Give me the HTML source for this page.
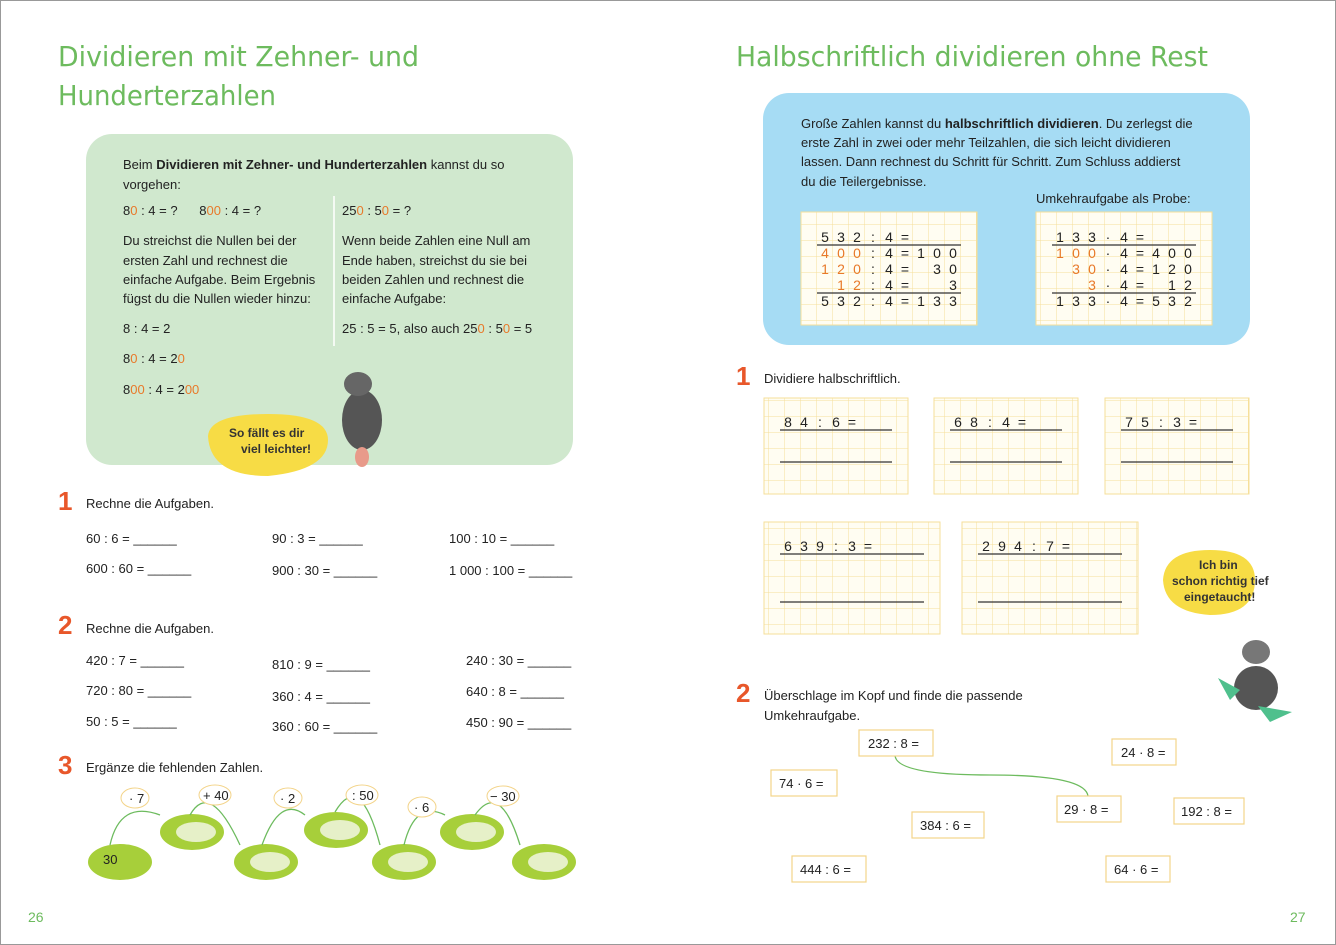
<!DOCTYPE html>
<html><head><meta charset="utf-8"><style>
html,body{margin:0;padding:0;background:#fff}
svg{display:block}
text{font-family:"Liberation Sans",sans-serif;font-size:13px;fill:#222}
.h{font-family:"DejaVu Sans",sans-serif;font-size:28px;fill:#6dbb5e}
.n{font-family:"Liberation Sans",sans-serif;font-size:26px;font-weight:bold;fill:#e8572a}
.o{fill:#e8792a}
.g{font-size:14px;text-anchor:middle}
.s{font-family:"Liberation Sans",sans-serif;font-size:12px;font-weight:bold;fill:#333}
.pg{fill:#6dbb5e;font-size:14px}
.bx{fill:#fff;stroke:#f3d48a;stroke-width:1.2}
</style></head><body>
<svg width="1336" height="945" viewBox="0 0 1336 945">
<defs>
<pattern id="gr" x="0" y="0" width="16" height="16" patternUnits="userSpaceOnUse">
<rect width="16" height="16" fill="#fffdf2"/><path d="M0 0H16M0 0V16" stroke="#f6df9a" stroke-width="1"/></pattern>
</defs>
<rect x="0.5" y="0.5" width="1335" height="944" fill="#fff" stroke="#999"/>

<!-- LEFT PAGE -->
<text class="h" x="58" y="66" textLength="361" lengthAdjust="spacingAndGlyphs">Dividieren mit Zehner- und</text>
<text class="h" x="58" y="105" textLength="218" lengthAdjust="spacingAndGlyphs">Hunderterzahlen</text>
<rect x="86" y="134" width="487" height="331" rx="26" fill="#d0e8ce"/>
<text x="123" y="169">Beim <tspan font-weight="bold">Dividieren mit Zehner- und Hunderterzahlen</tspan> kannst du so</text>
<text x="123" y="189">vorgehen:</text>
<text x="123" y="215">8<tspan class="o">0</tspan> : 4 = ?&#160;&#160;&#160;&#160;&#160; 8<tspan class="o">00</tspan> : 4 = ?</text>
<line x1="334" y1="196" x2="334" y2="346" stroke="#fff" stroke-width="1.5"/>
<text x="342" y="215">25<tspan class="o">0</tspan> : 5<tspan class="o">0</tspan> = ?</text>
<text x="123" y="245">Du streichst die Nullen bei der</text>
<text x="123" y="265">ersten Zahl und rechnest die</text>
<text x="123" y="284">einfache Aufgabe. Beim Ergebnis</text>
<text x="123" y="303">fügst du die Nullen wieder hinzu:</text>
<text x="342" y="245">Wenn beide Zahlen eine Null am</text>
<text x="342" y="265">Ende haben, streichst du sie bei</text>
<text x="342" y="284">beiden Zahlen und rechnest die</text>
<text x="342" y="303">einfache Aufgabe:</text>
<text x="123" y="333">8 : 4 = 2</text>
<text x="342" y="333">25 : 5 = 5, also auch 25<tspan class="o">0</tspan> : 5<tspan class="o">0</tspan> = 5</text>
<text x="123" y="363">8<tspan class="o">0</tspan> : 4 = 2<tspan class="o">0</tspan></text>
<text x="123" y="394">8<tspan class="o">00</tspan> : 4 = 2<tspan class="o">00</tspan></text>
<!-- bug -->
<ellipse cx="362" cy="420" rx="20" ry="30" fill="#555"/>
<ellipse cx="358" cy="384" rx="14" ry="12" fill="#666"/>
<ellipse cx="362" cy="457" rx="7" ry="10" fill="#e89a8a"/>
<path d="M208 436 Q210 414 268 414 Q328 414 328 440 Q328 470 268 476 Q210 476 208 436Z" fill="#f7dc45"/>
<text class="s" x="229" y="437">So fällt es dir</text>
<text class="s" x="241" y="453">viel leichter!</text>

<text class="n" x="58" y="510">1</text>
<text x="86" y="508">Rechne die Aufgaben.</text>
<text x="86" y="543">60 : 6 = ______</text>
<text x="272" y="543">90 : 3 = ______</text>
<text x="449" y="543">100 : 10 = ______</text>
<text x="86" y="573">600 : 60 = ______</text>
<text x="272" y="575">900 : 30 = ______</text>
<text x="449" y="575">1 000 : 100 = ______</text>

<text class="n" x="58" y="634">2</text>
<text x="86" y="633">Rechne die Aufgaben.</text>
<text x="86" y="665">420 : 7 = ______</text>
<text x="272" y="669">810 : 9 = ______</text>
<text x="466" y="665">240 : 30 = ______</text>
<text x="86" y="695">720 : 80 = ______</text>
<text x="272" y="701">360 : 4 = ______</text>
<text x="466" y="696">640 : 8 = ______</text>
<text x="86" y="726">50 : 5 = ______</text>
<text x="272" y="731">360 : 60 = ______</text>
<text x="466" y="727">450 : 90 = ______</text>

<text class="n" x="58" y="774">3</text>
<text x="86" y="772">Ergänze die fehlenden Zahlen.</text>
<g fill="#a7cf3a">
<ellipse cx="120" cy="862" rx="32" ry="18"/>
<ellipse cx="192" cy="832" rx="32" ry="18"/>
<ellipse cx="266" cy="862" rx="32" ry="18"/>
<ellipse cx="336" cy="830" rx="32" ry="18"/>
<ellipse cx="404" cy="862" rx="32" ry="18"/>
<ellipse cx="472" cy="832" rx="32" ry="18"/>
<ellipse cx="544" cy="862" rx="32" ry="18"/>
</g>
<g fill="#e6f0c8"><ellipse cx="196" cy="832" rx="20" ry="10"/><ellipse cx="270" cy="862" rx="20" ry="10"/><ellipse cx="340" cy="830" rx="20" ry="10"/><ellipse cx="408" cy="862" rx="20" ry="10"/><ellipse cx="476" cy="832" rx="20" ry="10"/><ellipse cx="548" cy="862" rx="20" ry="10"/></g>
<text x="103" y="864">30</text>
<g fill="none" stroke="#6dbb5e" stroke-width="1.3">
<path d="M110 845 Q120 800 160 815"/><path d="M190 815 Q210 780 240 845"/><path d="M262 845 Q280 795 305 815"/><path d="M335 812 Q360 770 380 845"/><path d="M404 845 Q415 800 445 815"/><path d="M475 815 Q500 780 520 845"/>
</g>
<g fill="#fff" stroke="#f3d48a"><ellipse cx="135" cy="798" rx="14" ry="10"/><ellipse cx="215" cy="795" rx="16" ry="10"/><ellipse cx="288" cy="798" rx="14" ry="10"/><ellipse cx="362" cy="795" rx="16" ry="10"/><ellipse cx="422" cy="807" rx="14" ry="10"/><ellipse cx="503" cy="796" rx="16" ry="10"/></g>
<text x="129" y="803">· 7</text><text x="203" y="800">+ 40</text><text x="280" y="803">· 2</text><text x="352" y="800">: 50</text><text x="414" y="812">· 6</text><text x="490" y="801">− 30</text>
<text class="pg" x="28" y="922">26</text>

<!-- RIGHT PAGE -->
<text class="h" x="736" y="66" textLength="472" lengthAdjust="spacingAndGlyphs">Halbschriftlich dividieren ohne Rest</text>
<rect x="763" y="93" width="487" height="252" rx="26" fill="#a6dcf4"/>
<text x="801" y="128">Große Zahlen kannst du <tspan font-weight="bold">halbschriftlich dividieren</tspan>. Du zerlegst die</text>
<text x="801" y="147">erste Zahl in zwei oder mehr Teilzahlen, die sich leicht dividieren</text>
<text x="801" y="166">lassen. Dann rechnest du Schritt für Schritt. Zum Schluss addierst</text>
<text x="801" y="186">du die Teilergebnisse.</text>
<text x="1036" y="203">Umkehraufgabe als Probe:</text>
<rect x="801" y="212" width="176" height="113" fill="url(#gr)" stroke="#f6df9a"/>
<rect x="1036" y="212" width="176" height="113" fill="url(#gr)" stroke="#f6df9a"/>
<g stroke="#333" stroke-width="1.2"><line x1="817" y1="245" x2="961" y2="245"/><line x1="817" y1="293" x2="961" y2="293"/><line x1="1052" y1="245" x2="1196" y2="245"/><line x1="1052" y1="293" x2="1196" y2="293"/></g>
<text class="g" x="825 841 857 873 889 905" y="242">532:4=</text>
<text class="g" y="258"><tspan class="o" x="825 841 857">400</tspan><tspan x="873 889 905 921 937 953">:4=100</tspan></text>
<text class="g" y="274"><tspan class="o" x="825 841 857">120</tspan><tspan x="873 889 905 937 953">:4=30</tspan></text>
<text class="g" y="290"><tspan class="o" x="841 857">12</tspan><tspan x="873 889 905 953">:4=3</tspan></text>
<text class="g" x="825 841 857 873 889 905 921 937 953" y="306">532:4=133</text>
<text class="g" x="1060 1076 1092 1108 1124 1140" y="242">133·4=</text>
<text class="g" y="258"><tspan class="o" x="1060 1076 1092">100</tspan><tspan x="1108 1124 1140 1156 1172 1188">·4=400</tspan></text>
<text class="g" y="274"><tspan class="o" x="1076 1092">30</tspan><tspan x="1108 1124 1140 1156 1172 1188">·4=120</tspan></text>
<text class="g" y="290"><tspan class="o" x="1092">3</tspan><tspan x="1108 1124 1140 1172 1188">·4=12</tspan></text>
<text class="g" x="1060 1076 1092 1108 1124 1140 1156 1172 1188" y="306">133·4=532</text>

<text class="n" x="736" y="385">1</text>
<text x="764" y="383">Dividiere halbschriftlich.</text>
<rect x="764" y="398" width="144" height="96" fill="url(#gr)" stroke="#f6df9a"/>
<rect x="934" y="398" width="144" height="96" fill="url(#gr)" stroke="#f6df9a"/>
<rect x="1105" y="398" width="144" height="96" fill="url(#gr)" stroke="#f6df9a"/>
<rect x="764" y="522" width="176" height="112" fill="url(#gr)" stroke="#f6df9a"/>
<rect x="962" y="522" width="176" height="112" fill="url(#gr)" stroke="#f6df9a"/>
<g stroke="#333" stroke-width="1.2">
<line x1="780" y1="430" x2="892" y2="430"/><line x1="780" y1="462" x2="892" y2="462"/>
<line x1="950" y1="430" x2="1062" y2="430"/><line x1="950" y1="462" x2="1062" y2="462"/>
<line x1="1121" y1="430" x2="1233" y2="430"/><line x1="1121" y1="462" x2="1233" y2="462"/>
<line x1="780" y1="554" x2="924" y2="554"/><line x1="780" y1="602" x2="924" y2="602"/>
<line x1="978" y1="554" x2="1122" y2="554"/><line x1="978" y1="602" x2="1122" y2="602"/>
</g>
<text class="g" x="788 804 820 836 852" y="427">84:6=</text>
<text class="g" x="958 974 990 1006 1022" y="427">68:4=</text>
<text class="g" x="1129 1145 1161 1177 1193" y="427">75:3=</text>
<text class="g" x="788 804 820 836 852 868" y="551">639:3=</text>
<text class="g" x="986 1002 1018 1034 1050 1066" y="551">294:7=</text>
<!-- diver bug -->
<path d="M1163 580 Q1165 550 1210 550 Q1255 550 1255 580 Q1255 615 1210 615 Q1165 612 1163 580Z" fill="#f7dc45"/>
<text class="s" x="1199" y="569">Ich bin</text>
<text class="s" x="1172" y="585">schon richtig tief</text>
<text class="s" x="1184" y="601">eingetaucht!</text>
<ellipse cx="1256" cy="688" rx="22" ry="22" fill="#555"/>
<ellipse cx="1256" cy="652" rx="14" ry="12" fill="#777"/>
<path d="M1218 678 L1240 690 L1230 700Z M1258 706 L1292 712 L1270 722Z" fill="#4fc08d"/>

<text class="n" x="736" y="702">2</text>
<text x="764" y="700">Überschlage im Kopf und finde die passende</text>
<text x="764" y="720">Umkehraufgabe.</text>
<path d="M895 755 Q895 775 990 775 Q1085 775 1088 796" fill="none" stroke="#6dbb5e" stroke-width="1.3"/>
<rect class="bx" x="859" y="730" width="74" height="26"/><text x="868" y="748">232 : 8 =</text>
<rect class="bx" x="1112" y="739" width="64" height="26"/><text x="1121" y="757">24 · 8 =</text>
<rect class="bx" x="771" y="770" width="66" height="26"/><text x="779" y="788">74 · 6 =</text>
<rect class="bx" x="1057" y="796" width="64" height="26"/><text x="1064" y="814">29 · 8 =</text>
<rect class="bx" x="1174" y="798" width="70" height="26"/><text x="1181" y="816">192 : 8 =</text>
<rect class="bx" x="912" y="812" width="72" height="26"/><text x="920" y="830">384 : 6 =</text>
<rect class="bx" x="792" y="856" width="74" height="26"/><text x="800" y="874">444 : 6 =</text>
<rect class="bx" x="1106" y="856" width="64" height="26"/><text x="1114" y="874">64 · 6 =</text>
<text class="pg" x="1290" y="922">27</text>
</svg>
</body></html>
